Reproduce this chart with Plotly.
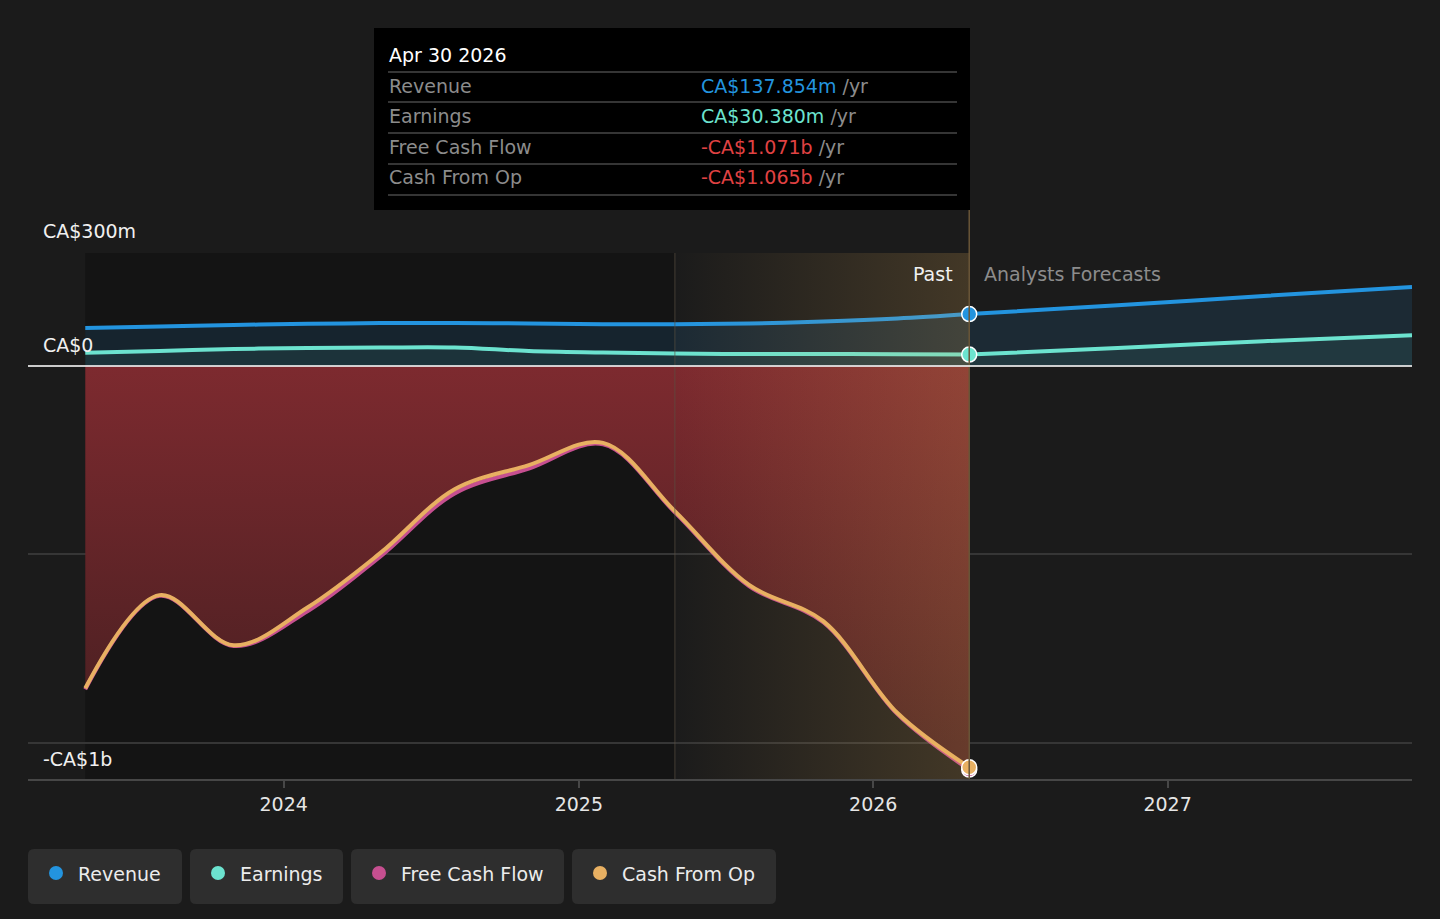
import plotly.graph_objects as go

# trailing twelve month values, millions of CA$
past_dates = ['2023-04-30', '2023-07-31', '2023-10-31', '2024-01-31', '2024-04-30',
              '2024-07-31', '2024-10-31', '2025-01-31', '2025-04-30', '2025-07-31',
              '2025-10-31', '2026-01-31', '2026-04-30']
revenue = [101, 105, 109, 112, 114, 114, 113, 111, 111, 113, 118, 126, 137.854]
earnings = [35, 40, 45, 48, 49, 49, 40, 36, 33, 32, 32, 31, 30.38]
free_cash_flow = [-858, -610, -743, -650, -505, -338, -272, -208, -388, -584, -680, -924, -1071]
cash_from_op = [-855, -608, -741, -640, -496, -327, -263, -204, -385, -581, -677, -921, -1065]

# analyst forecasts
forecast_dates = ['2026-04-30', '2026-10-31', '2027-04-30', '2027-10-31']
revenue_fc = [137.854, 161, 186, 210]
earnings_fc = [30.38, 48, 66, 82]

year_ticks = ['2024-01-01', '2025-01-01', '2026-01-01', '2027-01-01']
year_labels = ['2024', '2025', '2026', '2027']
grid_vals = [300, -500, -1000]
y_label_vals = [300, 0, -1000]
y_labels = ['CA$300m', 'CA$0', '-CA$1b']

series_names = ['Revenue', 'Earnings', 'Free Cash Flow', 'Cash From Op']
series_colors = ['#2394df', '#6ce3cf', '#c64f90', '#e8b062']

tooltip_date = 'Apr 30 2026'
tooltip_values = ['CA$137.854m', 'CA$30.380m', '-CA$1.071b', '-CA$1.065b']
tooltip_colors = ['#2394df', '#6ce3cf', '#e04243', '#e04243']

BG = '#1b1b1b'
FONT = 'DejaVu Sans'
FS = 19
W, H = 1440, 919
L, R, T, B = 28, 1412, 253, 779  # plot area in pixels


def px(x):
    return (x - L) / (R - L)


def py(y):
    return (B - y) / (B - T)


def rounded_rect(x0, y0, x1, y1, r):
    rx, ry = r / (R - L), r / (B - T)
    X0, X1, Yt, Yb = px(x0), px(x1), py(y0), py(y1)
    return (f'M {X0+rx},{Yt} L {X1-rx},{Yt} Q {X1},{Yt} {X1},{Yt-ry} '
            f'L {X1},{Yb+ry} Q {X1},{Yb} {X1-rx},{Yb} L {X0+rx},{Yb} '
            f'Q {X0},{Yb} {X0},{Yb+ry} L {X0},{Yt-ry} Q {X0},{Yt} {X0+rx},{Yt} Z')


fig = go.Figure()

# revenue / earnings areas
fig.add_trace(go.Scatter(x=past_dates + forecast_dates[1:], y=revenue + revenue_fc[1:],
                         mode='none', fill='tozeroy', fillcolor='rgba(35,148,223,0.13)',
                         line_shape='spline'))
fig.add_trace(go.Scatter(x=past_dates + forecast_dates[1:], y=earnings + earnings_fc[1:],
                         mode='none', fill='tozeroy', fillcolor='rgba(108,227,207,0.08)',
                         line_shape='spline'))

# red area down to free cash flow
fig.add_trace(go.Scatter(x=past_dates, y=free_cash_flow, mode='lines', fill='tozeroy',
                         line=dict(color=series_colors[2], width=4, shape='spline'),
                         fillgradient=dict(type='vertical', start=-1000, stop=0,
                                           colorscale=[[0, 'rgb(72,31,33)'], [1, 'rgb(125,42,47)']])))
fig.add_trace(go.Scatter(x=past_dates, y=cash_from_op, mode='lines',
                         line=dict(color=series_colors[3], width=4, shape='spline')))

fig.add_trace(go.Scatter(x=past_dates, y=revenue, mode='lines',
                         line=dict(color=series_colors[0], width=4, shape='spline')))
fig.add_trace(go.Scatter(x=forecast_dates, y=revenue_fc, mode='lines',
                         line=dict(color=series_colors[0], width=4, shape='spline')))
fig.add_trace(go.Scatter(x=past_dates, y=earnings, mode='lines',
                         line=dict(color=series_colors[1], width=4, shape='spline')))
fig.add_trace(go.Scatter(x=forecast_dates, y=earnings_fc, mode='lines',
                         line=dict(color=series_colors[1], width=4, shape='spline')))

# "past" highlight (last twelve months)
y_lo, y_hi = -1096, 300
fig.add_trace(go.Scatter(x=[past_dates[8], past_dates[-1], past_dates[-1], past_dates[8], past_dates[8]],
                         y=[y_lo, y_lo, y_hi, y_hi, y_lo], mode='none', fill='toself',
                         fillgradient=dict(type='horizontal',
                                           colorscale=[[0, 'rgba(236,179,88,0)'], [1, 'rgba(236,179,88,0.19)']])))

# end-point markers
for vals, col in zip([free_cash_flow, cash_from_op, revenue, earnings],
                     [series_colors[2], series_colors[3], series_colors[0], series_colors[1]]):
    fig.add_trace(go.Scatter(x=[past_dates[-1]], y=[vals[-1]], mode='markers',
                             marker=dict(color=col, size=15, line=dict(color='white', width=1.5))))

shapes = [
    # darker past background
    dict(type='rect', xref='x', yref='y', x0=past_dates[0], x1=past_dates[8], y0=y_lo, y1=y_hi,
         fillcolor='#141414', line_width=0, layer='below'),
    dict(type='line', xref='x', yref='y', x0=past_dates[8], x1=past_dates[8], y0=y_lo, y1=y_hi,
         line=dict(color='rgba(90,80,66,0.45)', width=1.5)),
    dict(type='line', xref='x', yref='paper', x0=past_dates[-1], x1=past_dates[-1], y0=0, y1=py(210),
         line=dict(color='#6a5638', width=1.5)),
    # zero line
    dict(type='line', xref='paper', yref='y', x0=0, x1=1, y0=0, y1=0,
         line=dict(color='rgba(235,235,235,0.85)', width=2)),
    # tooltip box
    dict(type='rect', xref='paper', yref='paper', x0=px(374), x1=px(970), y0=py(210), y1=py(28),
         fillcolor='#000000', line_width=0),
]
for sy in [72, 102, 133, 164, 195]:
    shapes.append(dict(type='line', xref='paper', yref='paper', x0=px(388), x1=px(957),
                       y0=py(sy), y1=py(sy), line=dict(color='#474747', width=1.5)))

annotations = []
for v, t, shift in zip(y_label_vals, y_labels, [22, 21, -16]):
    annotations.append(dict(xref='paper', yref='y', x=px(41), y=v, text=t, showarrow=False,
                            xanchor='left', yanchor='middle', yshift=shift,
                            font=dict(family=FONT, size=FS, color='#f0f0f0')))

annotations.append(dict(xref='paper', yref='paper', x=px(955), y=py(274), text='Past', showarrow=False,
                        xanchor='right', yanchor='middle', font=dict(family=FONT, size=FS, color='#f0f0f0')))
annotations.append(dict(xref='paper', yref='paper', x=px(982), y=py(274), text='Analysts Forecasts',
                        showarrow=False, xanchor='left', yanchor='middle',
                        font=dict(family=FONT, size=FS, color='#8c8c8c')))

# tooltip text
annotations.append(dict(xref='paper', yref='paper', x=px(387), y=py(55), text=tooltip_date, showarrow=False,
                        xanchor='left', yanchor='middle', font=dict(family=FONT, size=FS, color='#ffffff')))
for i, (name, val, col) in enumerate(zip(series_names, tooltip_values, tooltip_colors)):
    ry = [86, 116, 147, 177][i]
    annotations.append(dict(xref='paper', yref='paper', x=px(387), y=py(ry), text=name, showarrow=False,
                            xanchor='left', yanchor='middle', font=dict(family=FONT, size=FS, color='#8c8c8c')))
    annotations.append(dict(xref='paper', yref='paper', x=px(699), y=py(ry),
                            text=f'<span style="color:{col}">{val}</span> /yr', showarrow=False,
                            xanchor='left', yanchor='middle', font=dict(family=FONT, size=FS, color='#8c8c8c')))

# legend chips
chips = [(28, 182), (190, 343), (351, 564), (572, 776)]
for (x0, x1), name, col in zip(chips, series_names, series_colors):
    shapes.append(dict(type='path', xref='paper', yref='paper', path=rounded_rect(x0, 849, x1, 904, 6),
                       fillcolor='#2e2e2e', line_width=0))
    cx = x0 + 28
    shapes.append(dict(type='circle', xref='paper', yref='paper', x0=px(cx - 7), x1=px(cx + 7),
                       y0=py(873 + 7), y1=py(873 - 7), fillcolor=col, line_width=0))
    annotations.append(dict(xref='paper', yref='paper', x=px(cx + 20), y=py(874), text=name, showarrow=False,
                            xanchor='left', yanchor='middle', font=dict(family=FONT, size=FS, color='#ececec')))

fig.update_layout(
    width=W, height=H,
    margin=dict(l=L, r=W - R, t=T, b=H - B),
    paper_bgcolor=BG, plot_bgcolor=BG,
    showlegend=False, hovermode=False,
    font=dict(family=FONT, size=FS, color='#e6e6e6'),
    shapes=shapes, annotations=annotations,
    xaxis=dict(type='date', range=['2023-02-18', '2027-10-31'], tickvals=year_ticks, ticktext=year_labels,
               showgrid=False, showline=True, linecolor='#474747', linewidth=1.5,
               ticks='outside', ticklen=7, tickcolor='#474747', tickwidth=1.5,
               tickfont=dict(family=FONT, size=FS, color='#e6e6e6'), zeroline=False),
    yaxis=dict(range=[y_lo, y_hi], tickvals=grid_vals, showticklabels=False, showgrid=True,
               gridcolor='#363636', gridwidth=1.5, zeroline=False, showline=False),
)

fig.write_html('out.html', config={'displayModeBar': False},
               post_script="document.body.style.margin='0';document.body.style.background='#1b1b1b';")
